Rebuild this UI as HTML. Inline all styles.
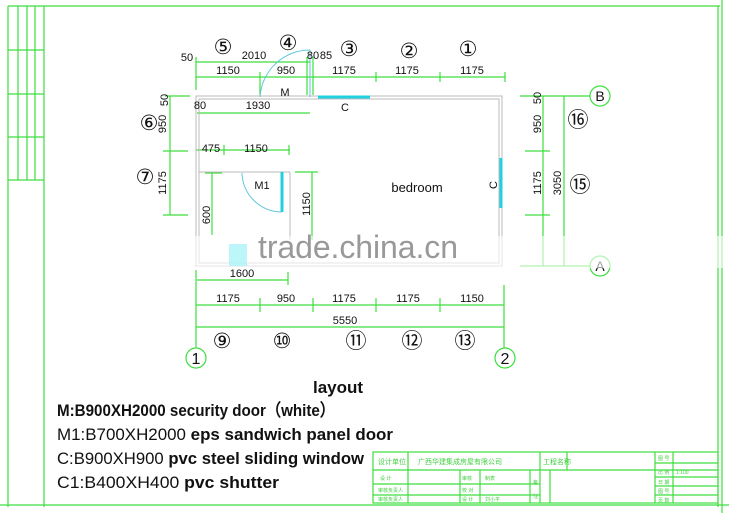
<!DOCTYPE html>
<html><head><meta charset="utf-8"><style>
html,body{margin:0;padding:0;background:#fff;}
svg{display:block;}
text{font-family:"Liberation Sans",sans-serif;}
</style></head><body>
<svg width="729" height="513" viewBox="0 0 729 513" xmlns="http://www.w3.org/2000/svg">
<rect width="729" height="513" fill="#fff"/>
<g stroke="#3ede3e" fill="none" stroke-width="1.2">
 <line x1="8" y1="6" x2="720" y2="6"/>
 <line x1="8" y1="6" x2="8" y2="507"/>
 <line x1="44" y1="6" x2="44" y2="507"/>
 <line x1="718" y1="6" x2="718" y2="507"/>
 <line x1="722" y1="0" x2="722" y2="513"/>
 <line x1="0" y1="505" x2="729" y2="505"/>
 <line x1="18" y1="6" x2="18" y2="180"/>
 <line x1="27" y1="6" x2="27" y2="180"/>
 <line x1="35" y1="6" x2="35" y2="180"/>
 <line x1="8" y1="50" x2="44" y2="50"/>
 <line x1="8" y1="94" x2="44" y2="94"/>
 <line x1="8" y1="137" x2="44" y2="137"/>
 <line x1="8" y1="180" x2="44" y2="180"/>
 <line x1="196" y1="62" x2="310" y2="62"/>
 <line x1="196" y1="77" x2="505" y2="77"/>
 <line x1="196" y1="57" x2="196" y2="90"/>
 <line x1="260" y1="72" x2="260" y2="95"/>
 <line x1="307" y1="57" x2="307" y2="95"/>
 <line x1="313" y1="57" x2="313" y2="95"/>
 <line x1="376" y1="72" x2="376" y2="82"/>
 <line x1="440" y1="72" x2="440" y2="82"/>
 <line x1="505" y1="72" x2="505" y2="82"/>
 <line x1="197" y1="113" x2="310" y2="113"/>
 <line x1="196" y1="150" x2="290" y2="150"/>
 <line x1="224" y1="145" x2="224" y2="155"/>
 <line x1="289" y1="145" x2="289" y2="155"/>
 <line x1="170" y1="96" x2="170" y2="215"/>
 <line x1="165" y1="96" x2="190" y2="96"/>
 <line x1="163" y1="151" x2="188" y2="151"/>
 <line x1="163" y1="215" x2="188" y2="215"/>
 <line x1="205" y1="173" x2="222" y2="173"/>
 <line x1="212" y1="173" x2="212" y2="235"/>
 <line x1="295" y1="172" x2="318" y2="172"/>
 <line x1="312" y1="172" x2="312" y2="240"/>
 <line x1="520" y1="96" x2="590" y2="96"/>
 <line x1="520" y1="266" x2="590" y2="266"/>
 <line x1="543" y1="96" x2="543" y2="266"/>
 <line x1="564" y1="96" x2="564" y2="266"/>
 <line x1="525" y1="151" x2="550" y2="151"/>
 <line x1="525" y1="215" x2="550" y2="215"/>
 <circle cx="600" cy="96" r="10"/>
 <circle cx="600" cy="266" r="10"/>
 <line x1="197" y1="280" x2="288" y2="280"/>
 <line x1="288" y1="272" x2="288" y2="285"/>
 <line x1="196" y1="305" x2="504" y2="305"/>
 <line x1="196" y1="327" x2="504" y2="327"/>
 <line x1="196" y1="270" x2="196" y2="348"/>
 <line x1="504" y1="285" x2="504" y2="348"/>
 <line x1="260" y1="298" x2="260" y2="312"/>
 <line x1="313" y1="298" x2="313" y2="312"/>
 <line x1="376" y1="298" x2="376" y2="312"/>
 <line x1="440" y1="298" x2="440" y2="312"/>
 <circle cx="196" cy="358" r="10"/>
 <circle cx="505" cy="358" r="10"/>
 <rect x="373" y="452" width="345" height="51"/>
 <line x1="373" y1="470" x2="718" y2="470"/>
 <line x1="373" y1="484" x2="540" y2="484"/>
 <line x1="373" y1="495" x2="540" y2="495"/>
 <line x1="408" y1="452" x2="408" y2="503"/>
 <line x1="460" y1="470" x2="460" y2="503"/>
 <line x1="480" y1="470" x2="480" y2="503"/>
 <line x1="530" y1="470" x2="530" y2="503"/>
 <line x1="540" y1="452" x2="540" y2="503"/>
 <line x1="550" y1="470" x2="550" y2="503"/>
 <line x1="567" y1="452" x2="567" y2="470"/>
 <line x1="655" y1="452" x2="655" y2="503"/>
 <line x1="673" y1="452" x2="673" y2="503"/>
 <line x1="655" y1="463" x2="718" y2="463"/>
 <line x1="655" y1="477" x2="718" y2="477"/>
 <line x1="655" y1="486" x2="718" y2="486"/>
 <line x1="655" y1="495" x2="718" y2="495"/>
</g>
<g fill="#3fd03f" font-size="5">
 <text x="378" y="464" font-size="7">设计单位</text>
 <text x="418" y="464" font-size="7">广西华建集成房屋有限公司</text>
 <text x="543" y="464" font-size="7">工程名称</text>
 <text x="380" y="480">设 计</text><text x="462" y="480">审核</text><text x="485" y="480">制表</text>
 <text x="378" y="492">审核负责人</text><text x="462" y="492">校 对</text>
 <text x="378" y="501">审核负责人</text><text x="462" y="501">设 计</text><text x="485" y="501">刘小平</text>
 <text x="533" y="484">备</text><text x="533" y="498">注</text>
 <text x="658" y="460">图 号</text><text x="658" y="474">比 例</text><text x="676" y="474">1:100</text>
 <text x="658" y="484">日 期</text><text x="658" y="493">图 号</text><text x="658" y="502">页 数</text>
</g>
<g stroke="#bbb" fill="none" stroke-width="1">
 <rect x="196" y="96" width="306" height="170"/>
 <rect x="199" y="99" width="300" height="164"/>
 <line x1="199" y1="172" x2="290" y2="172"/>
 <line x1="290" y1="172" x2="290" y2="240"/>
</g>
<g stroke="#20d0e0" fill="none" stroke-width="3">
 <line x1="318" y1="97" x2="370" y2="97"/>
 <line x1="501" y1="158" x2="501" y2="208"/>
 <line x1="282" y1="172" x2="282" y2="212"/>
</g>
<g stroke="#60c8d8" fill="none" stroke-width="1">
 <path d="M260 97 A50 50 0 0 1 310 50"/><line x1="310" y1="50" x2="310" y2="97"/>
 <path d="M242 173 A40 40 0 0 0 282 212"/>
</g>
<rect x="229" y="244" width="18" height="22" fill="#30e0f0" opacity="0.8"/>
<g font-size="11" fill="#111" text-anchor="middle">
 <text x="187" y="61">50</text><text x="254" y="59">2010</text><text x="313" y="59">80</text><text x="326" y="59">85</text>
 <text x="228" y="74">1150</text><text x="286" y="74">950</text><text x="344" y="74">1175</text><text x="407" y="74">1175</text><text x="472" y="74">1175</text>
 <text x="200" y="109">80</text><text x="258" y="109">1930</text><text x="285" y="96">M</text><text x="345" y="111">C</text>
 <text x="211" y="152">475</text><text x="256" y="152">1150</text><text x="262" y="189">M1</text>
 <text x="242" y="277">1600</text>
 <text x="228" y="302">1175</text><text x="286" y="302">950</text><text x="344" y="302">1175</text><text x="408" y="302">1175</text><text x="472" y="302">1150</text>
 <text x="345" y="324">5550</text>
 <text x="417" y="192" font-size="13">bedroom</text>
</g>
<g font-size="11" fill="#111" text-anchor="middle">
 <text transform="translate(168,100) rotate(-90)">50</text>
 <text transform="translate(166,124) rotate(-90)">950</text>
 <text transform="translate(166,183) rotate(-90)">1175</text>
 <text transform="translate(210,215) rotate(-90)">600</text>
 <text transform="translate(310,204) rotate(-90)">1150</text>
 <text transform="translate(541,98) rotate(-90)">50</text>
 <text transform="translate(541,124) rotate(-90)">950</text>
 <text transform="translate(541,183) rotate(-90)">1175</text>
 <text transform="translate(561,183) rotate(-90)">3050</text>
 <text transform="translate(497,185) rotate(-90)">C</text>
</g>
<g font-family="Liberation Serif, DejaVu Sans, sans-serif" font-size="21" fill="#111" text-anchor="middle">
 <text x="223" y="54">⑤</text><text x="288" y="50">④</text><text x="349" y="56">③</text><text x="409" y="58">②</text><text x="468" y="56">①</text>
 <text x="149" y="130">⑥</text><text x="145" y="184">⑦</text>
 <text x="578" y="127">⑯</text><text x="580" y="192">⑮</text>
 <text x="222" y="348">⑨</text><text x="282" y="348">⑩</text><text x="356" y="348">⑪</text><text x="412" y="348">⑫</text><text x="465" y="348">⑬</text>
</g>
<g font-family="Liberation Serif" fill="#111" text-anchor="middle">
 <text x="196" y="364" font-size="16">1</text><text x="505" y="364" font-size="16">2</text>
 <text x="600" y="101" font-size="14">B</text><text x="600" y="271" font-size="14">A</text>
</g>
<rect x="90" y="236" width="640" height="32" fill="#fff" opacity="0.6"/>
<text x="358" y="258" font-size="32" fill="#999" text-anchor="middle" textLength="200">trade.china.cn</text>
<g fill="#111">
 <text x="338" y="393" font-size="17" font-weight="bold" text-anchor="middle">layout</text>
 <text x="57" y="416" font-size="17" font-weight="bold" textLength="278" lengthAdjust="spacingAndGlyphs">M:B900XH2000 security door（white）</text>
 <text x="57" y="440" font-size="17" textLength="336" lengthAdjust="spacingAndGlyphs">M1:B700XH2000 <tspan font-weight="bold">eps sandwich panel door</tspan></text>
 <text x="57" y="464" font-size="17" textLength="307" lengthAdjust="spacingAndGlyphs">C:B900XH900 <tspan font-weight="bold">pvc steel sliding window</tspan></text>
 <text x="57" y="488" font-size="17" textLength="222" lengthAdjust="spacingAndGlyphs">C1:B400XH400 <tspan font-weight="bold">pvc shutter</tspan></text>
</g>
</svg>
</body></html>
